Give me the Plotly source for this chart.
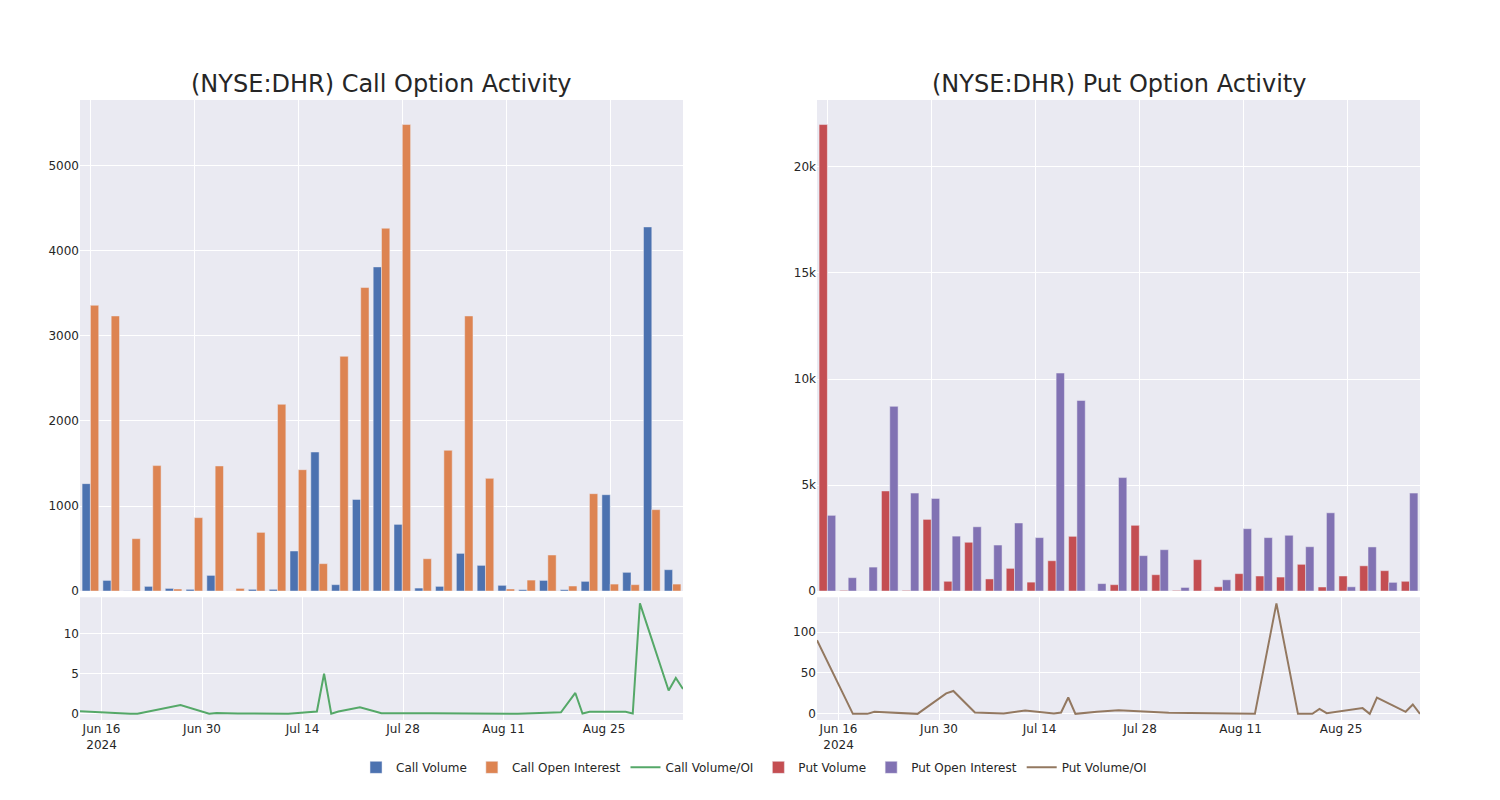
import plotly.graph_objects as go
from plotly.subplots import make_subplots

dates = ["2024-06-13", "2024-06-18", "2024-06-20", "2024-06-21", "2024-06-27",
         "2024-07-01", "2024-07-02", "2024-07-05", "2024-07-09", "2024-07-12",
         "2024-07-16", "2024-07-17", "2024-07-18", "2024-07-19", "2024-07-22",
         "2024-07-25", "2024-08-01", "2024-08-13", "2024-08-16", "2024-08-19",
         "2024-08-21", "2024-08-22", "2024-08-23", "2024-08-28", "2024-08-29",
         "2024-08-30", "2024-09-03", "2024-09-04", "2024-09-05"]

call_volume = [1263, 125, 2, 55, 31, 20, 184, 0, 20, 20,
               471, 1635, 75, 1078, 3812, 784, 35, 55, 443, 302,
               67, 16, 125, 16, 114, 1133, 220, 4282, 251]
call_oi = [3361, 3235, 616, 1475, 24, 863, 1471, 31, 690, 2196,
           1427, 322, 2761, 3569, 4267, 5486, 380, 1655, 3235, 1325,
           24, 129, 424, 59, 1145, 82, 75, 957, 82]
call_ratio = [0.33, 0.03, 0.0, 0.02, 1.1, 0.02, 0.1, 0.05, 0.03, 0.01,
              0.3, 5.0, 0.02, 0.3, 0.83, 0.08, 0.09, 0.0, 0.1, 0.2,
              2.6, 0.05, 0.25, 0.25, 0.05, 13.75, 2.9, 4.46, 3.1]

put_volume = [22000, 30, 0, 4720, 30, 3380, 460, 2300, 570, 1070,
              420, 1430, 2580, 0, 300, 3100, 770, 30, 1480, 200,
              820, 710, 660, 1260, 190, 710, 1190, 960, 460]
put_oi = [3570, 630, 1130, 8710, 4620, 4370, 2590, 3030, 2170, 3210,
          2520, 10280, 8990, 350, 5350, 1670, 1950, 170, 11, 530,
          2940, 2520, 2630, 2090, 3690, 200, 2080, 410, 4620]
put_ratio = [90, 0, 0, 2.5, 0, 25, 28, 1.6, 0.4, 4,
             0.4, 1.6, 20, 0, 2.5, 4.5, 1.5, 0, 135, 0,
             0, 6, 0.8, 7, 0, 20, 2.5, 11.5, 0]

titles = ["(NYSE:DHR) Call Option Activity", "(NYSE:DHR) Put Option Activity"]

C_CV = "rgb(76,114,176)"
C_COI = "rgb(221,132,82)"
C_CR = "rgb(85,168,104)"
C_PV = "rgb(196,78,82)"
C_POI = "rgb(129,114,179)"
C_PR = "rgb(147,120,96)"

fig = make_subplots(rows=2, cols=2, row_heights=[0.8, 0.2],
                    vertical_spacing=0.01, horizontal_spacing=0.1,
                    subplot_titles=[titles[0], titles[1], "", ""])

fig.add_trace(go.Bar(x=dates, y=call_volume, name="Call Volume", marker_color=C_CV), row=1, col=1)
fig.add_trace(go.Bar(x=dates, y=call_oi, name="Call Open Interest", marker_color=C_COI), row=1, col=1)
fig.add_trace(go.Scatter(x=dates, y=call_ratio, name="Call Volume/OI", mode="lines",
                         line=dict(color=C_CR, width=2)), row=2, col=1)
fig.add_trace(go.Bar(x=dates, y=put_volume, name="Put Volume", marker_color=C_PV), row=1, col=2)
fig.add_trace(go.Bar(x=dates, y=put_oi, name="Put Open Interest", marker_color=C_POI), row=1, col=2)
fig.add_trace(go.Scatter(x=dates, y=put_ratio, name="Put Volume/OI", mode="lines",
                         line=dict(color=C_PR, width=2)), row=2, col=2)

for c in (1, 2):
    fig.update_xaxes(type="category", showticklabels=False, tickmode="linear",
                     tick0=0, dtick=5, row=1, col=c)
    fig.update_xaxes(type="date", row=2, col=c)

fig.update_layout(
    template="seaborn",
    width=1500, height=800,
    margin=dict(l=72, r=88, t=92, b=88),
    barmode="group",
    font=dict(family="DejaVu Sans", size=12, color="#262626"),
    legend=dict(orientation="h", x=0.503, xanchor="center", y=-0.053, yanchor="top",
                font=dict(size=12)),
)
for a in fig.layout.annotations:
    a.font = dict(size=24, family="DejaVu Sans", color="#262626")

fig.write_html("out.html")
